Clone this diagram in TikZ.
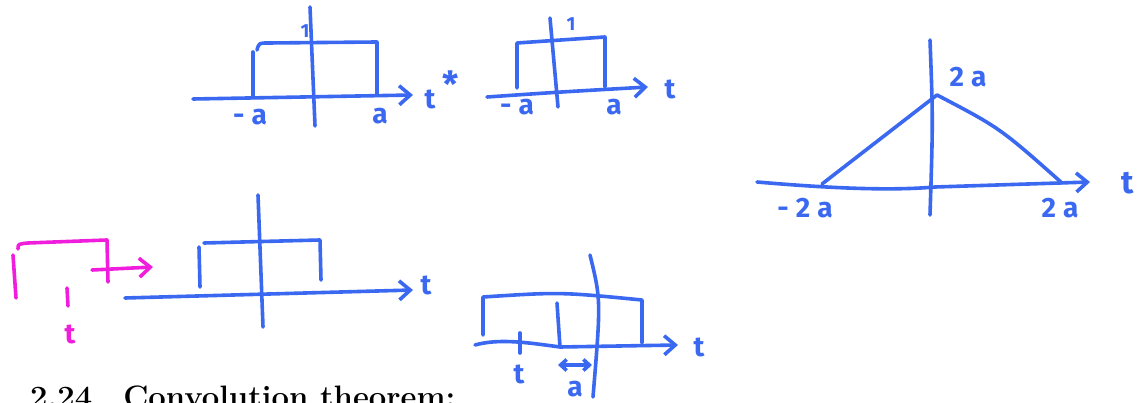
\documentclass[tikz,border=0pt]{standalone}
\usepackage{amsmath}
\usepackage{fontspec}
\newfontfamily\handfont{Fira Sans}
\usetikzlibrary{arrows.meta}
\definecolor{penblue}{RGB}{58,104,240}
\definecolor{penpink}{RGB}{240,30,220}
\newcommand{\gap}{\kern7pt}

\begin{document}
\begin{tikzpicture}[x=1pt, y=-1pt,
  penline/.style={draw=penblue, line width=3.6pt, line cap=round, line join=round},
  pinkline/.style={penline, draw=penpink},
  axisarrow/.style={penline, -{Straight Barb[length=11pt, width=19pt]}},
  handlabel/.style={text=penblue, inner sep=0pt, font=\handfont\bfseries\fontsize{28}{30}\selectfont},
  pinklabel/.style={handlabel, text=penpink},
  smalllabel/.style={handlabel, font=\handfont\bfseries\fontsize{19}{21}\selectfont}
]
\clip (0,0) rectangle (1141,403);
\draw[axisarrow] (193,99) -- (413,95);
\draw[penline] (310,7) -- (315,126);
\draw[penline] (253,52) -- (253,97);
\draw[penline] (257,50) .. controls (259,43) .. (268,43) -- (377,42) -- (377,95);
\node[smalllabel] (one-a) at (305,31) {1};
\node[handlabel] (neg-a) at (250,117) {-\gap a};
\node[handlabel] (pos-a) at (380,116) {a};
\node[handlabel] (t-a) at (430,99) {t};
\node[handlabel, font=\handfont\bfseries\fontsize{36}{38}\selectfont] (star-a) at (451,84) {*};
\draw[axisarrow] (487,97) .. controls (560,92) .. (648,87);
\draw[penline] (550,18) -- (558,107);
\draw[penline] (517,88) -- (517,43) -- (605,37) -- (605,87);
\node[smalllabel] (one-b) at (571,24) {1};
\node[handlabel] (neg-b) at (517,107) {-\gap a};
\node[handlabel] (pos-b) at (614,107) {a};
\node[handlabel] (t-b) at (670,89) {t};
\draw[axisarrow] (757,182) .. controls (850,190) and (900,190) .. (935,187) -- (1090,182);
\draw[penline] (930,40) .. controls (933,120) .. (930,215);
\draw[penline] (822,184) -- (937,95) .. controls (1000,128) .. (1062,183);
\node[handlabel] (top-c) at (968,77) {2\gap a};
\node[handlabel] (neg-c) at (805,208) {-\gap 2\gap a};
\node[handlabel] (pos-c) at (1060,208) {2\gap a};
\node[handlabel, font=\handfont\bfseries\fontsize{32}{34}\selectfont] (t-c) at (1128,183) {t};
\draw[pinkline] (13,255) -- (16,298);
\draw[pinkline] (18,249) .. controls (18,244) .. (28,243) -- (107,240) -- (108,282);
\draw[pinkline, -{Straight Barb[length=11pt, width=19pt]}] (92,270) -- (153,267);
\draw[pinkline] (67,288) -- (68,306);
\node[pinklabel] (t-d) at (70,334) {t};
\draw[axisarrow] (125,298) -- (413,290);
\draw[penline] (258,195) -- (263,327);
\draw[penline] (200,287) -- (199,247);
\draw[penline] (204,243) -- (320,240) -- (321,280);
\node[handlabel] (t-e) at (426,285) {t};
\draw[axisarrow] (475,345) .. controls (500,338) and (530,343) .. (560,347) -- (678,345);
\draw[penline] (590,255) .. controls (601,300) .. (593,397);
\draw[penline] (483,335) -- (483,297) .. controls (560,292) .. (642,300) -- (642,343);
\draw[penline] (557,303) -- (560,347);
\draw[penline] (520,333) -- (520,353);
\node[handlabel] (t-f) at (519,374) {t};
\draw[penline, {Straight Barb[length=6pt, width=11pt]}-{Straight Barb[length=6pt, width=11pt]}] (558,365) -- (592,365);
\node[handlabel] (a-f) at (575,389) {a};
\node[handlabel] (t-g) at (699,347) {t};
\node[anchor=base west, inner sep=0pt, font=\fontsize{31}{36}\bfseries\selectfont] (heading) at (30,407) {2.24\quad Convolution theorem:};
\end{tikzpicture}
\end{document}
